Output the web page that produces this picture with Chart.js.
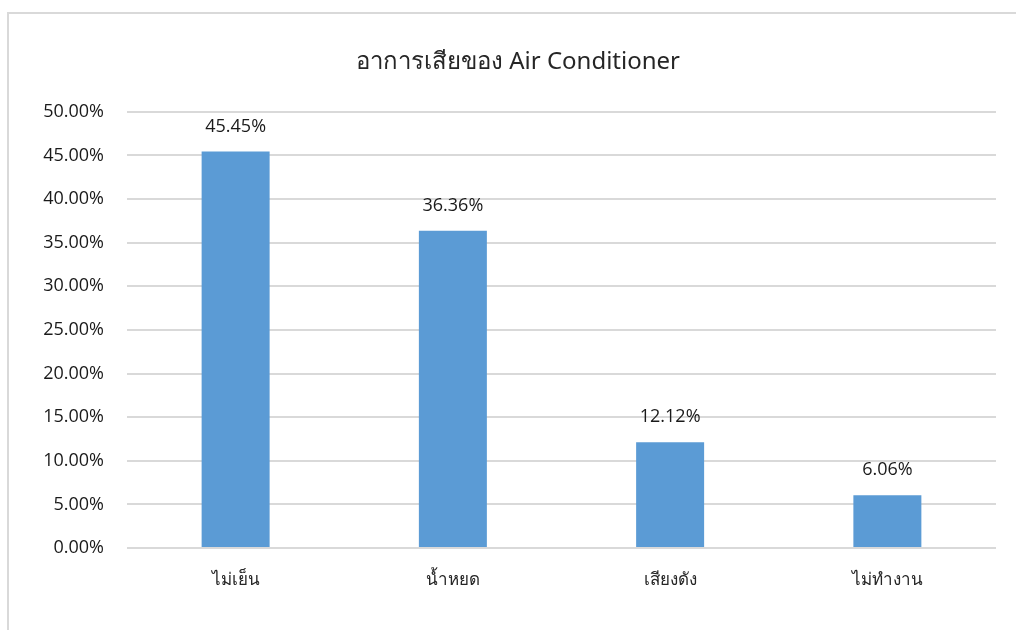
<!DOCTYPE html>
<html lang="th">
<head>
  <meta charset="UTF-8" />
  <title>อาการเสียของ Air Conditioner</title>
  <script src="https://cdn.jsdelivr.net/npm/chart.js"></script>
  <style>
    body {
      margin: 0;
      background: #ffffff;
      overflow: hidden;
    }
    #wrap {
      position: relative;
      width: 1016px;
      height: 630px;
      overflow: hidden;
    }
    #frame {
      position: absolute;
      left: 7px;
      top: 12px;
      width: 1100px;
      height: 700px;
      border-left: 2px solid #d9d9d9;
      border-top: 2px solid #d9d9d9;
      pointer-events: none;
    }
    canvas {
      position: absolute;
      left: 0;
      top: 0;
    }
  </style>
</head>
<body>

<div id="wrap">
  <canvas id="acChart" width="1016" height="630"></canvas>
  <div id="frame"></div>
</div>

<script>
  const categories = ['ไม่เย็น', 'น้ำหยด', 'เสียงดัง', 'ไม่ทำงาน'];
  const percentValues = [45.45, 36.36, 12.12, 6.06];
  const yTicks = [0, 5, 10, 15, 20, 25, 30, 35, 40, 45, 50];

  const fmt = v => Number(v).toFixed(2) + '%';
  const labelFont = "'Open Sans', Lato, 'Noto Sans', sans-serif";

  // value labels above each bar
  const barLabels = {
    id: 'barLabels',
    afterDatasetsDraw(chart) {
      const ctx = chart.ctx;
      const meta = chart.getDatasetMeta(0);
      ctx.save();
      ctx.font = '18px ' + labelFont;
      ctx.fillStyle = '#1a1a1a';
      ctx.textAlign = 'center';
      ctx.textBaseline = 'middle';
      meta.data.forEach((bar, i) => {
        ctx.fillText(fmt(percentValues[i]), bar.x, bar.y - 25);
      });
      ctx.restore();
    }
  };

  const ctx = document.getElementById('acChart').getContext('2d');
  new Chart(ctx, {
    type: 'bar',
    data: {
      labels: categories,
      datasets: [{
        data: percentValues,
        backgroundColor: '#5b9bd5',
        barPercentage: 0.313,
        categoryPercentage: 1
      }]
    },
    options: {
      responsive: false,
      animation: false,
      layout: { padding: { left: 40, right: 20, top: 0, bottom: 0 } },
      plugins: {
        legend: { display: false },
        tooltip: { enabled: false },
        title: {
          display: true,
          text: 'อาการเสียของ Air Conditioner',
          color: '#262626',
          font: { family: "'Noto Sans', Lato, sans-serif", size: 24, weight: 'normal', lineHeight: 1.2 },
          padding: { top: 48, bottom: 35 }
        }
      },
      scales: {
        x: {
          grid: { display: false, drawTicks: false },
          border: { display: false },
          ticks: {
            color: '#262626',
            padding: 22,
            font: { family: "'Noto Sans', sans-serif", size: 17 }
          },
          afterFit(scale) { scale.height = 82; }
        },
        y: {
          min: 0,
          max: 50,
          afterBuildTicks(scale) {
            scale.ticks = yTicks.map(v => ({ value: v }));
          },
          grid: { color: '#d9d9d9', lineWidth: 2, drawTicks: false },
          border: { display: false },
          ticks: {
            color: '#1a1a1a',
            padding: 23,
            font: { family: labelFont, size: 18 },
            callback: v => fmt(v)
          },
          afterFit(scale) { scale.width = 87; }
        }
      }
    },
    plugins: [barLabels]
  });
</script>

</body>
</html>
